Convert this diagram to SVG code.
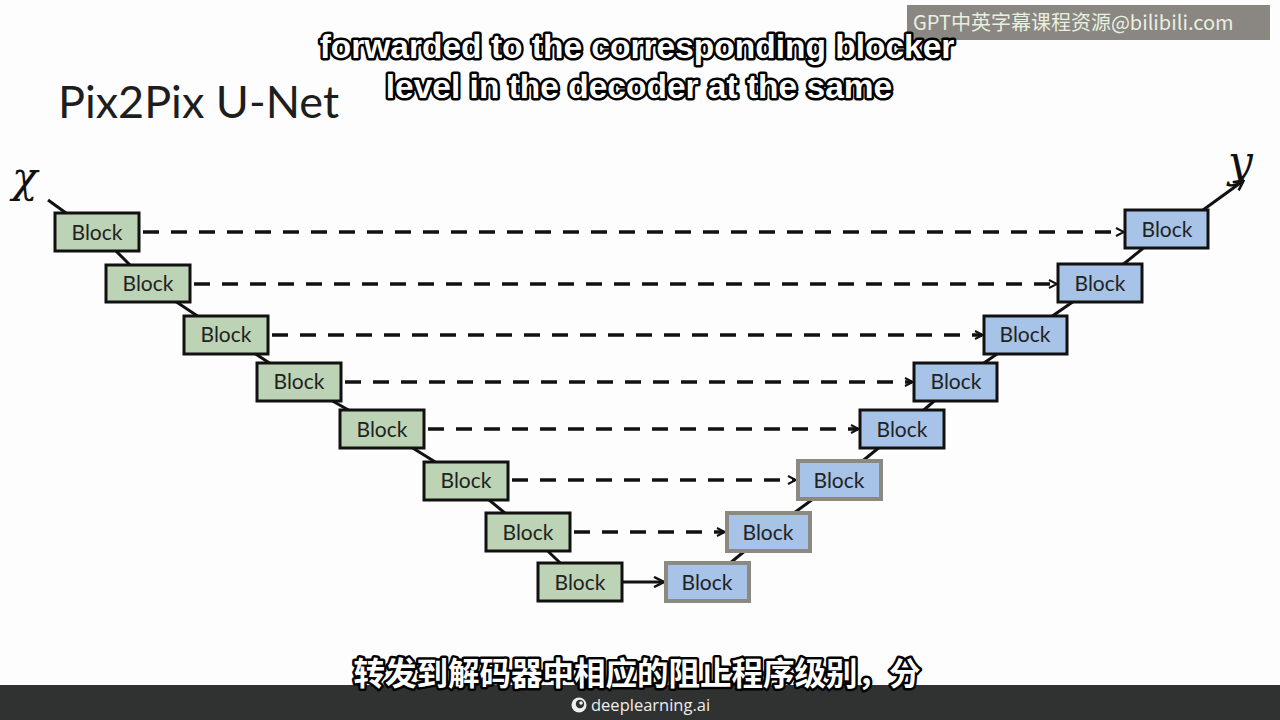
<svg xmlns="http://www.w3.org/2000/svg" width="1280" height="720" viewBox="0 0 1280 720">
<defs>
<marker id="ah" markerWidth="10" markerHeight="10" refX="8" refY="5" orient="auto" markerUnits="userSpaceOnUse">
<path d="M1,1 L9,5 L1,9" fill="none" stroke="#111" stroke-width="2"/>
</marker>
<marker id="ahs" markerWidth="12" markerHeight="12" refX="10" refY="6" orient="auto" markerUnits="userSpaceOnUse">
<path d="M1,1 L11,6 L1,11" fill="none" stroke="#111" stroke-width="2.5"/>
</marker>
<style>
.enc rect{fill:#bdd3b5;stroke:#111;stroke-width:3}
.dec rect{fill:#a7c3e7;stroke:#111;stroke-width:3}
.decg rect{fill:#a7c3e7;stroke:#8c8a80;stroke-width:4}
.lbl{font-family:Lato,"Liberation Sans",sans-serif;font-size:21px;fill:#222;text-anchor:middle}
.dash{stroke:#111;stroke-width:3.5;stroke-dasharray:16 12;fill:none}
.solid{stroke:#111;stroke-width:3;fill:none}
.sub{font-family:"Liberation Sans",Arial,sans-serif;font-size:33.5px;font-weight:bold;fill:#fff;stroke:#000;stroke-width:5;paint-order:stroke;stroke-linejoin:round;text-anchor:middle}
.subcn{font-family:"Noto Sans CJK SC",sans-serif;font-size:31.5px;font-weight:bold;fill:#fff;stroke:#000;stroke-width:5;paint-order:stroke;stroke-linejoin:round;text-anchor:middle}
</style>
</defs>
<rect width="1280" height="720" fill="#fdfdfd"/>
<rect x="0" y="685" width="1280" height="35" fill="#303131"/>
<g id="logo">
<circle cx="579" cy="705" r="7.5" fill="#eee"/>
<circle cx="580" cy="704" r="4.2" fill="#303131"/>
<circle cx="581" cy="703" r="1.8" fill="#eee"/>
<text x="591" y="711" font-family="'Open Sans','Noto Sans',sans-serif" font-size="16.5" fill="#eee">deeplearning.ai</text>
</g>
<g id="watermark">
<rect x="907" y="5" width="363" height="35" fill="#8a8681"/>
<text x="913" y="30" font-family="'Noto Sans CJK SC','DejaVu Sans',sans-serif" font-size="20" fill="#e8f0e0">GPT中英字幕课程资源@bilibili.com</text>
</g>
<text id="title" x="58" y="118" font-family="Lato,'Liberation Sans',sans-serif" font-size="45" fill="#1e1e1e">Pix2Pix U-Net</text>
<text id="x-label" x="12" y="192" font-family="'DejaVu Serif','Liberation Serif',serif" font-style="italic" font-size="42" fill="#111">χ</text>
<text id="y-label" x="1228" y="177" font-family="'DejaVu Serif','Liberation Serif',serif" font-style="italic" font-size="44" fill="#111">y</text>
<g id="connectors">
<line class="solid" x1="48" y1="200" x2="66" y2="213"/>
<line class="solid" x1="97" y1="232" x2="148" y2="283"/>
<line class="solid" x1="148" y1="283" x2="226" y2="335"/>
<line class="solid" x1="226" y1="335" x2="299" y2="382"/>
<line class="solid" x1="299" y1="382" x2="382" y2="429"/>
<line class="solid" x1="382" y1="429" x2="466" y2="481"/>
<line class="solid" x1="466" y1="481" x2="528" y2="532"/>
<line class="solid" x1="528" y1="532" x2="580" y2="582"/>
<line class="solid" x1="707" y1="582" x2="768" y2="532"/>
<line class="solid" x1="768" y1="532" x2="839" y2="480"/>
<line class="solid" x1="839" y1="480" x2="902" y2="429"/>
<line class="solid" x1="902" y1="429" x2="956" y2="382"/>
<line class="solid" x1="956" y1="382" x2="1025" y2="335"/>
<line class="solid" x1="1025" y1="335" x2="1100" y2="283"/>
<line class="solid" x1="1100" y1="283" x2="1167" y2="229"/>
<line class="solid" x1="1203" y1="210" x2="1243" y2="181" marker-end="url(#ahs)"/>
<line class="solid" x1="622" y1="582" x2="663" y2="582" marker-end="url(#ahs)"/>
<line class="dash" x1="143" y1="232" x2="1123" y2="232" marker-end="url(#ah)"/>
<line class="dash" x1="194" y1="284" x2="1056" y2="284" marker-end="url(#ah)"/>
<line class="dash" x1="272" y1="335" x2="982" y2="335" marker-end="url(#ah)"/>
<line class="dash" x1="345" y1="382" x2="912" y2="382" marker-end="url(#ah)"/>
<line class="dash" x1="428" y1="429" x2="858" y2="429" marker-end="url(#ah)"/>
<line class="dash" x1="512" y1="480" x2="795" y2="480" marker-end="url(#ah)"/>
<line class="dash" x1="574" y1="532" x2="724" y2="532" marker-end="url(#ah)"/>
</g>
<g id="enc1" class="enc"><rect x="55" y="213" width="84" height="38"/><text class="lbl" x="97" y="240">Block</text></g>
<g id="enc2" class="enc"><rect x="106" y="265" width="84" height="37"/><text class="lbl" x="148" y="291">Block</text></g>
<g id="enc3" class="enc"><rect x="184" y="316" width="84" height="38"/><text class="lbl" x="226" y="342">Block</text></g>
<g id="enc4" class="enc"><rect x="257" y="363" width="84" height="38"/><text class="lbl" x="299" y="389">Block</text></g>
<g id="enc5" class="enc"><rect x="340" y="410" width="84" height="38"/><text class="lbl" x="382" y="437">Block</text></g>
<g id="enc6" class="enc"><rect x="424" y="462" width="84" height="38"/><text class="lbl" x="466" y="488">Block</text></g>
<g id="enc7" class="enc"><rect x="486" y="513" width="84" height="38"/><text class="lbl" x="528" y="540">Block</text></g>
<g id="enc8" class="enc"><rect x="538" y="563" width="84" height="38"/><text class="lbl" x="580" y="590">Block</text></g>
<g id="dec1" class="dec"><rect x="1125" y="210" width="83" height="38"/><text class="lbl" x="1167" y="237">Block</text></g>
<g id="dec2" class="dec"><rect x="1058" y="264" width="84" height="38"/><text class="lbl" x="1100" y="291">Block</text></g>
<g id="dec3" class="dec"><rect x="984" y="316" width="83" height="38"/><text class="lbl" x="1025" y="342">Block</text></g>
<g id="dec4" class="dec"><rect x="914" y="363" width="83" height="38"/><text class="lbl" x="956" y="389">Block</text></g>
<g id="dec5" class="dec"><rect x="860" y="410" width="84" height="38"/><text class="lbl" x="902" y="437">Block</text></g>
<g id="dec6" class="decg"><rect x="798" y="461" width="83" height="38"/><text class="lbl" x="839" y="488">Block</text></g>
<g id="dec7" class="decg"><rect x="727" y="513" width="83" height="38"/><text class="lbl" x="768" y="540">Block</text></g>
<g id="dec8" class="decg"><rect x="666" y="563" width="83" height="38"/><text class="lbl" x="707" y="590">Block</text></g>
<g id="subtitles">
<text class="sub" x="637" y="58">forwarded to the corresponding blocker</text>
<text class="sub" x="639" y="98">level in the decoder at the same</text>
<text class="subcn" x="637" y="685">转发到解码器中相应的阻止程序级别，分</text>
</g>
</svg>
